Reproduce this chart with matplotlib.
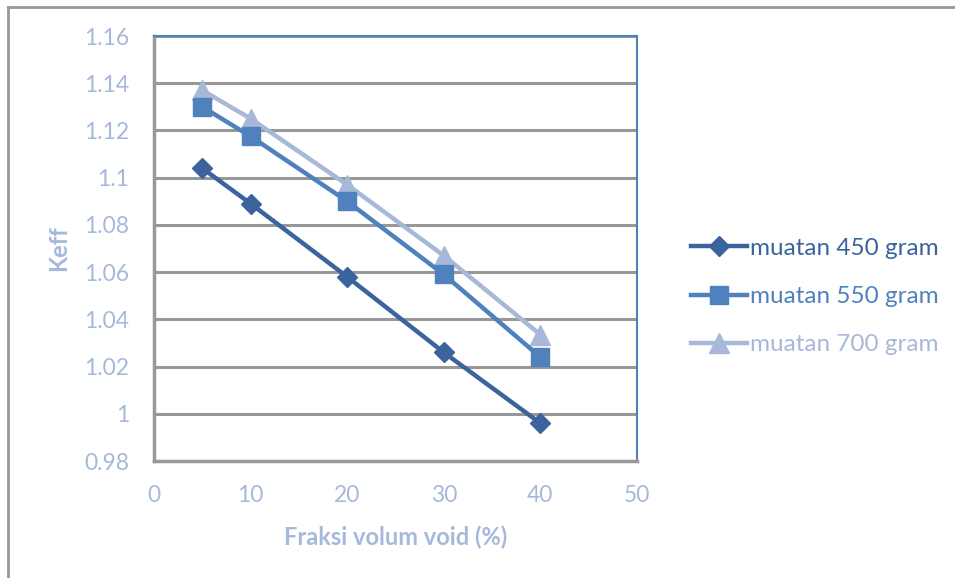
import matplotlib.pyplot as plt
from matplotlib.lines import Line2D

plt.rcParams['font.family'] = ['Lato', 'DejaVu Sans']

# data
fraksi = [5, 10, 20, 30, 40]
keff_450 = [1.104, 1.089, 1.058, 1.026, 0.996]
keff_550 = [1.130, 1.1175, 1.090, 1.059, 1.024]
keff_700 = [1.137, 1.125, 1.097, 1.067, 1.0335]
labels = ['muatan 450 gram', 'muatan 550 gram', 'muatan 700 gram']
yticks = [0.98, 1, 1.02, 1.04, 1.06, 1.08, 1.1, 1.12, 1.14, 1.16]
ytick_labels = ['0.98', '1', '1.02', '1.04', '1.06', '1.08', '1.1', '1.12', '1.14', '1.16']
xticks = [0, 10, 20, 30, 40, 50]

c450 = '#3B649E'
c550 = '#4F81BD'
c700 = '#A7B8D8'
txt = '#A6B9DA'
grid = '#989898'

fig = plt.figure(figsize=(9.55, 5.78), dpi=100)
ax = fig.add_axes([0.1613, 0.2024, 0.5057, 0.7353])

ax.plot(fraksi, keff_450, color=c450, lw=3.2, marker='D', ms=10, label=labels[0], zorder=3)
ax.plot(fraksi, keff_550, color=c550, lw=3.2, marker='s', ms=13, label=labels[1], zorder=4)
ax.plot(fraksi, keff_700, color=c700, lw=3.2, marker='^', ms=14, label=labels[2], zorder=2)

ax.set_xlim(0, 50)
ax.set_ylim(0.98, 1.16)
ax.set_xticks(xticks)
ax.set_yticks(yticks)
ax.set_yticklabels(ytick_labels)
ax.tick_params(length=0, labelsize=16.5, labelcolor=txt)
ax.tick_params(axis='x', pad=17)
ax.tick_params(axis='y', pad=18)
ax.yaxis.grid(True, color=grid, lw=2.2, zorder=0)
ax.set_axisbelow(True)

ax.spines['left'].set_color(grid)
ax.spines['left'].set_linewidth(2.5)
ax.spines['bottom'].set_color(grid)
ax.spines['bottom'].set_linewidth(2.5)
ax.spines['top'].set_color(c550)
ax.spines['top'].set_linewidth(1.5)
ax.spines['right'].set_color(c550)
ax.spines['right'].set_linewidth(1.5)

ax.set_xlabel('Fraksi volum void (%)', color=txt, fontsize=17, fontweight='bold', labelpad=14)
ax.set_ylabel('Keff', color=txt, fontsize=17, fontweight='bold', labelpad=10)

leg = fig.legend(loc='center left', bbox_to_anchor=(0.724, 0.487), frameon=False,
                 fontsize=17.5, handlelength=2.3, handletextpad=0.12, labelspacing=1.12,
                 borderaxespad=0, borderpad=0)
for t, c in zip(leg.get_texts(), [c450, c550, c700]):
    t.set_color(c)

# outer chart frame (cropped at right and bottom)
fig.add_artist(Line2D([0.0084, 1.0], [0.988, 0.988], color=grid, lw=2, transform=fig.transFigure))
fig.add_artist(Line2D([0.0084, 0.0084], [0.0, 0.988], color=grid, lw=2, transform=fig.transFigure))

fig.savefig('out.png', dpi=100)
